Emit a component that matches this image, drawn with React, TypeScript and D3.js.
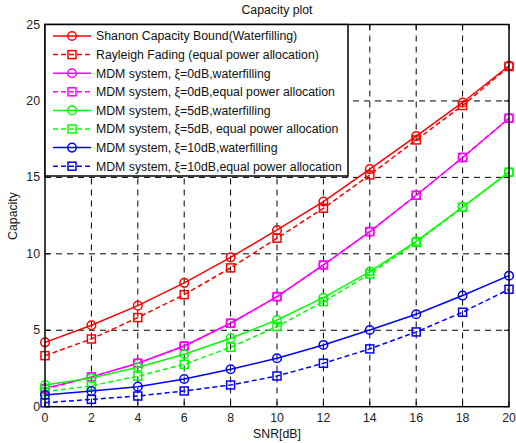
import React from "react";
import * as d3 from "d3";

const snr = [0, 2, 4, 6, 8, 10, 12, 14, 16, 18, 20];
const shannonWF = [4.21, 5.33, 6.61, 8.1, 9.77, 11.56, 13.42, 15.54, 17.7, 19.9, 22.3];
const rayleighEPA = [3.34, 4.43, 5.83, 7.33, 9.08, 11.02, 12.98, 15.16, 17.45, 19.7, 22.25];
const mdm0WF = [1.2, 1.95, 2.84, 3.97, 5.46, 7.2, 9.27, 11.45, 13.83, 16.3, 18.87];
const mdm0EPA = [1.15, 1.95, 2.84, 3.97, 5.46, 7.2, 9.27, 11.45, 13.83, 16.3, 18.87];
const mdm5WF = [1.42, 1.88, 2.58, 3.43, 4.48, 5.67, 7.13, 8.84, 10.82, 13.05, 15.34];
const mdm5EPA = [0.98, 1.37, 2.0, 2.77, 3.89, 5.24, 6.87, 8.68, 10.75, 13.05, 15.34];
const mdm10WF = [0.77, 1.03, 1.31, 1.81, 2.45, 3.17, 4.04, 5.02, 6.05, 7.27, 8.57];
const mdm10EPA = [0.26, 0.48, 0.7, 1.03, 1.42, 2.01, 2.84, 3.78, 4.89, 6.18, 7.68];

const xTicks = [0, 2, 4, 6, 8, 10, 12, 14, 16, 18, 20];
const yTicks = [0, 5, 10, 15, 20, 25];

const seriesNames = [
  "Shanon Capacity Bound(Waterfilling)",
  "Rayleigh Fading (equal power allocation)",
  "MDM system, \u03be=0dB,waterfilling",
  "MDM system, \u03be=0dB,equal power allocation",
  "MDM system, \u03be=5dB,waterfilling",
  "MDM system, \u03be=5dB, equal power allocation",
  "MDM system, \u03be=10dB,waterfilling",
  "MDM system, \u03be=10dB,equal power allocation",
];
const seriesValues = [shannonWF, rayleighEPA, mdm0WF, mdm0EPA, mdm5WF, mdm5EPA, mdm10WF, mdm10EPA];
const seriesColors = ["#ff0000", "#ff0000", "#ff00ff", "#ff00ff", "#00ff00", "#00ff00", "#0000ff", "#0000ff"];
const seriesDashed = [false, true, false, true, false, true, false, true];

const W = 516;
const H = 443;
const L = 45, R = 509, T = 24.5, B = 406.7;
const FONT = "'Liberation Sans', Arial, sans-serif";

function Marker({ x, y, square, color }: { x: number; y: number; square: boolean; color: string }) {
  if (square) {
    return <rect x={x - 4} y={y - 4} width={8} height={8} fill="none" stroke={color} strokeWidth={1.5} />;
  }
  return <circle cx={x} cy={y} r={4.3} fill="none" stroke={color} strokeWidth={1.5} />;
}

export default function App() {
  const xs = d3.scaleLinear().domain([0, 20]).range([L, R]);
  const ys = d3.scaleLinear().domain([0, 25]).range([B, T]);
  const line = d3
    .line<number>()
    .x((_, i) => xs(snr[i]))
    .y((d) => ys(d));

  const legX = L, legY = T, legW = 303, legH = 151.5;
  const rowY = (i: number) => legY + 11.5 + i * 18.6;

  return (
    <svg
      width={W}
      height={H}
      style={{ position: "absolute", left: 0, top: 0, background: "#fff" }}
      fontFamily={FONT}
    >
      <rect x={0} y={0} width={W} height={H} fill="#fff" />
      {/* grid */}
      {xTicks.slice(1, -1).map((t) => (
        <line key={"gx" + t} x1={xs(t)} x2={xs(t)} y1={T} y2={B} stroke="#000" strokeWidth={1} strokeDasharray="6,5" />
      ))}
      {yTicks.slice(1, -1).map((t) => (
        <line key={"gy" + t} x1={L} x2={R} y1={ys(t)} y2={ys(t)} stroke="#000" strokeWidth={1} strokeDasharray="6,5" />
      ))}
      {/* ticks */}
      {xTicks.map((t) => (
        <g key={"tx" + t}>
          <line x1={xs(t)} x2={xs(t)} y1={B} y2={B - 5} stroke="#000" />
          <line x1={xs(t)} x2={xs(t)} y1={T} y2={T + 5} stroke="#000" />
          <text x={xs(t)} y={422} fontSize={12.3} textAnchor="middle" fill="#222">
            {t}
          </text>
        </g>
      ))}
      {yTicks.map((t) => (
        <g key={"ty" + t}>
          <line x1={L} x2={L + 5} y1={ys(t)} y2={ys(t)} stroke="#000" />
          <line x1={R} x2={R - 5} y1={ys(t)} y2={ys(t)} stroke="#000" />
          <text x={40} y={ys(t) + 4} fontSize={12.3} textAnchor="end" fill="#222">
            {t}
          </text>
        </g>
      ))}
      {/* series */}
      {seriesValues.map((vals, si) => (
        <g key={"s" + si}>
          <path
            d={line(vals) || ""}
            fill="none"
            stroke={seriesColors[si]}
            strokeWidth={1.5}
            strokeDasharray={seriesDashed[si] ? "5,3" : undefined}
          />
          {vals.map((v, i) => (
            <Marker key={i} x={xs(snr[i])} y={ys(v)} square={seriesDashed[si]} color={seriesColors[si]} />
          ))}
        </g>
      ))}
      {/* axes box */}
      <rect x={L} y={T} width={R - L} height={B - T} fill="none" stroke="#000" strokeWidth={1.5} />
      {/* legend */}
      <rect x={legX} y={legY} width={legW} height={legH} fill="#fff" stroke="#000" strokeWidth={1.5} />
      {seriesNames.map((name, i) => (
        <g key={"l" + i}>
          <line
            x1={53}
            x2={91}
            y1={rowY(i)}
            y2={rowY(i)}
            stroke={seriesColors[i]}
            strokeWidth={1.5}
            strokeDasharray={seriesDashed[i] ? "5,3" : undefined}
          />
          <Marker x={72} y={rowY(i)} square={seriesDashed[i]} color={seriesColors[i]} />
          <text x={96} y={rowY(i) + 4.4} fontSize={12.3} fill="#111">
            {name}
          </text>
        </g>
      ))}
      {/* labels */}
      <text x={277} y={14} fontSize={12.3} textAnchor="middle" fill="#111">
        Capacity plot
      </text>
      <text x={277} y={438} fontSize={12.3} textAnchor="middle" fill="#111">
        SNR[dB]
      </text>
      <text x={17} y={216} fontSize={12.3} textAnchor="middle" fill="#111" transform="rotate(-90 17 216)">
        Capacity
      </text>
    </svg>
  );
}
